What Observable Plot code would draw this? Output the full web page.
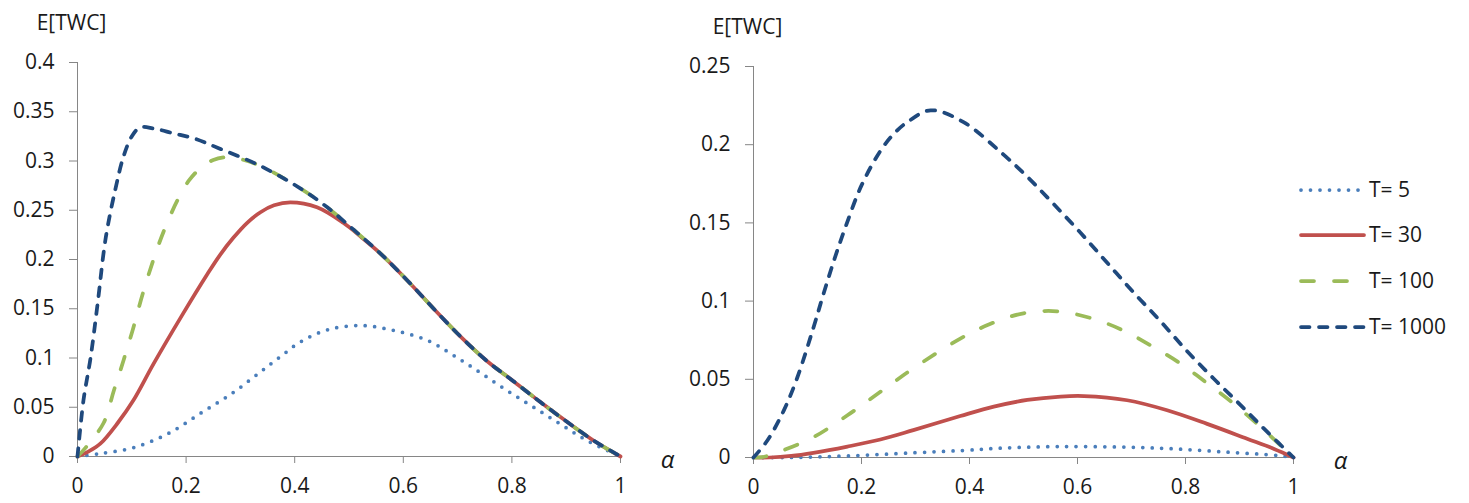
<!DOCTYPE html>
<html>
<head>
<meta charset="utf-8">
<script src="https://cdn.jsdelivr.net/npm/d3@7"></script>
<script src="https://cdn.jsdelivr.net/npm/@observablehq/plot@0.6"></script>
<style>
  body { margin: 0; background: #fff; }
  #wrap { position: relative; width: 1469px; height: 503px; overflow: hidden; background: #fff; }
  #wrap > svg, #wrap > div { position: absolute; top: 0; }
</style>
</head>
<body>
<div id="wrap"></div>
<script>
// ---------- data (alpha, E[TWC]) ----------
const seriesLabels = ["T= 5", "T= 30", "T= 100", "T= 1000"];
const seriesColors = ["#4a7ebb", "#c0504d", "#9bbb59", "#1f497d"];

const xTicks = [0, 0.2, 0.4, 0.6, 0.8, 1];
const leftYTicks = [0, 0.05, 0.1, 0.15, 0.2, 0.25, 0.3, 0.35, 0.4];
const rightYTicks = [0, 0.05, 0.1, 0.15, 0.2, 0.25];

// Left panel
const leftT5 = [[0,0],[0.042,0.003],[0.103,0.009],[0.166,0.023],[0.227,0.044],[0.287,0.065],[0.337,0.086],[0.374,0.1015],[0.411,0.1165],[0.46,0.1285],[0.521,0.133],[0.582,0.128],[0.644,0.118],[0.693,0.1025],[0.742,0.085],[0.791,0.067],[0.84,0.05],[0.889,0.033],[0.939,0.016],[1,0]];
const leftT30 = [[0,0],[0.02,0.005],[0.042,0.013],[0.074,0.034],[0.103,0.057],[0.14,0.094],[0.19,0.141],[0.239,0.185],[0.263,0.205],[0.287,0.222],[0.312,0.237],[0.337,0.248],[0.362,0.255],[0.392,0.258],[0.441,0.253],[0.49,0.237],[0.521,0.2235],[0.558,0.206],[0.607,0.179],[0.656,0.15],[0.705,0.122],[0.754,0.097],[0.804,0.076],[0.853,0.055],[0.902,0.035],[0.951,0.016],[1,0]];
const leftT100 = [[0,0],[0.015,0.009],[0.048,0.034],[0.067,0.067],[0.085,0.098],[0.103,0.131],[0.12,0.165],[0.14,0.2],[0.159,0.229],[0.184,0.26],[0.205,0.28],[0.227,0.293],[0.25,0.301],[0.276,0.304],[0.30,0.302],[0.337,0.295],[0.411,0.272],[0.46,0.253],[0.509,0.23],[0.558,0.206],[0.607,0.179],[0.656,0.15],[0.705,0.122],[0.754,0.097],[0.804,0.076],[0.853,0.055],[0.902,0.035],[0.951,0.016],[1,0]];
const leftT1000 = [[0,0],[0.011,0.057],[0.024,0.10],[0.037,0.155],[0.052,0.222],[0.07,0.272],[0.085,0.305],[0.1,0.325],[0.115,0.334],[0.14,0.333],[0.177,0.328],[0.214,0.323],[0.26,0.313],[0.337,0.295],[0.411,0.272],[0.46,0.253],[0.509,0.23],[0.558,0.206],[0.607,0.179],[0.656,0.15],[0.705,0.122],[0.754,0.097],[0.804,0.076],[0.853,0.055],[0.902,0.035],[0.951,0.016],[1,0]];

// Right panel
const rightT5 = [[0,0],[0.07,0],[0.174,0.001],[0.296,0.003],[0.389,0.0045],[0.46,0.006],[0.569,0.007],[0.692,0.0066],[0.78,0.0055],[0.877,0.0034],[0.97,0.0013],[1,0]];
const rightT30 = [[0,0],[0.03,0],[0.07,0.001],[0.111,0.003],[0.174,0.007],[0.235,0.0115],[0.296,0.0175],[0.383,0.0265],[0.445,0.0325],[0.507,0.0368],[0.569,0.039],[0.612,0.0393],[0.692,0.0366],[0.766,0.0302],[0.84,0.0215],[0.914,0.012],[0.964,0.0055],[1,0]];
const rightT100 = [[0,0],[0.02,0.0005],[0.05,0.004],[0.111,0.013],[0.174,0.027],[0.235,0.042],[0.296,0.057],[0.383,0.076],[0.439,0.0855],[0.5,0.0922],[0.562,0.0935],[0.624,0.0892],[0.68,0.082],[0.735,0.0718],[0.791,0.06],[0.84,0.0475],[0.889,0.0345],[0.939,0.0195],[1,0]];
const rightT1000 = [[0,0],[0.026,0.011],[0.056,0.030],[0.081,0.051],[0.111,0.083],[0.13,0.105],[0.15,0.127],[0.17,0.147],[0.2,0.174],[0.235,0.196],[0.26,0.207],[0.285,0.2145],[0.328,0.222],[0.389,0.2144],[0.457,0.1955],[0.507,0.1795],[0.556,0.162],[0.606,0.1435],[0.655,0.1245],[0.704,0.1055],[0.754,0.087],[0.803,0.068],[0.852,0.0505],[0.902,0.0335],[0.951,0.0165],[1,0]];

// ---------- styles ----------
const FONT = "'Open Sans', sans-serif";
const FS = 21;
const lineStyles = [
  {strokeWidth: 3.75, strokeDasharray: "0,9.5", strokeLinecap: "round"},
  {strokeWidth: 3.75, strokeDasharray: null, strokeLinecap: "round"},
  {strokeWidth: 3.75, strokeDasharray: "13,20", strokeLinecap: "round"},
  {strokeWidth: 3.75, strokeDasharray: "8.5,9.5", strokeLinecap: "round"}
];
const axisGrey = "#868686";

function panel(series, yTicks, yMax, geom) {
  const marks = [
    Plot.ruleX([0], {stroke: axisGrey, strokeWidth: 1}),
    Plot.ruleY([0], {stroke: axisGrey, strokeWidth: 1}),
    Plot.axisY(yTicks, {tickSize: 8, tickPadding: 15, stroke: axisGrey, tickFormat: d => String(d)}),
    Plot.axisX(xTicks, {tickSize: 7, tickPadding: 15, stroke: axisGrey, tickFormat: d => String(d)})
  ];
  series.forEach((s, i) => {
    const st = lineStyles[i];
    const opts = {x: d => d[0], y: d => d[1], stroke: seriesColors[i], strokeWidth: st.strokeWidth,
      strokeLinecap: st.strokeLinecap, strokeLinejoin: "round", curve: "catmull-rom"};
    if (st.strokeDasharray) opts.strokeDasharray = st.strokeDasharray;
    marks.push(Plot.line(s, opts));
  });
  marks.push(Plot.text(["E[TWC]"], {frameAnchor: "top-left", dx: -6, dy: -39, textAnchor: "middle", lineAnchor: "middle", fontSize: FS, fill: "#1a1a1a"}));
  marks.push(Plot.text(["α"], {frameAnchor: "bottom-right", dx: 47, dy: 4, textAnchor: "middle", lineAnchor: "middle", fontSize: 24, fontStyle: "italic", fill: "#1a1a1a"}));
  return Plot.plot({
    width: geom.width, height: 503,
    marginLeft: geom.ml, marginRight: geom.mr, marginTop: geom.mt, marginBottom: geom.mb,
    x: {domain: [0, 1], axis: null},
    y: {domain: [0, yMax], axis: null},
    style: {fontFamily: FONT, fontSize: FS + "px", color: "#1a1a1a", background: "transparent", overflow: "visible"},
    marks
  });
}

const wrap = document.getElementById("wrap");
const left = panel([leftT5, leftT30, leftT100, leftT1000], leftYTicks, 0.4, {width: 680, ml: 77, mr: 60, mt: 62, mb: 47});
left.style.left = "0px";
wrap.appendChild(left);
const right = panel([rightT5, rightT30, rightT100, rightT1000], rightYTicks, 0.25, {width: 789, ml: 73, mr: 176, mt: 66, mb: 46});
right.style.left = "680px";
wrap.appendChild(right);

// ---------- legend ----------
const legendRows = [190, 235, 281, 327];
const legend = d3.create("svg").attr("width", 1469).attr("height", 503)
  .style("position", "absolute").style("left", "0px").style("top", "0px").style("pointer-events", "none");
seriesLabels.forEach((lab, i) => {
  const st = lineStyles[i];
  const ln = legend.append("line").attr("x1", 1301).attr("x2", 1364).attr("y1", legendRows[i]).attr("y2", legendRows[i])
    .attr("stroke", seriesColors[i]).attr("stroke-width", st.strokeWidth).attr("stroke-linecap", st.strokeLinecap);
  if (st.strokeDasharray) ln.attr("stroke-dasharray", st.strokeDasharray);
  legend.append("text").attr("x", 1369).attr("y", legendRows[i]).attr("dy", "0.35em")
    .attr("font-family", FONT).attr("font-size", FS).attr("fill", "#1a1a1a").text(lab);
});
wrap.appendChild(legend.node());
</script>
</body>
</html>
